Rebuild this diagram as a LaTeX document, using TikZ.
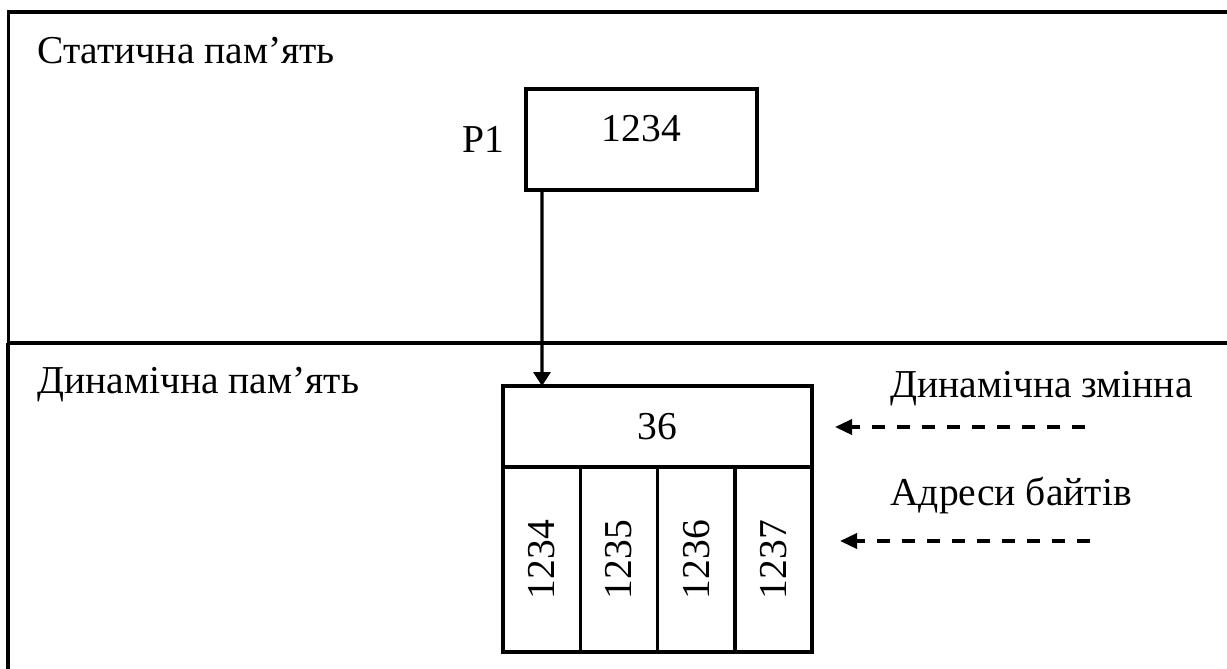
\documentclass[tikz,border=0pt]{standalone}
\usepackage{fontspec}
\setmainfont{Liberation Serif}
\usepackage{tikz}
\usetikzlibrary{positioning,arrows.meta}

\begin{document}
\begin{tikzpicture}[
    every node/.style={font=\fontsize{22.5}{27}\selectfont, inner sep=0pt},
    frame/.style={draw=black, line width=2pt},
    cell/.style={draw=black, line width=2pt, inner sep=0pt, outer sep=0pt, align=center},
    ptr/.style={line width=1.8pt, -{Triangle[width=0.34cm,length=0.28cm]}},
    hint/.style={line width=2pt, dash pattern=on 0.26cm off 0.24cm, -{Triangle[width=0.3cm,length=0.34cm]}}
  ]
    \useasboundingbox (0,0) rectangle (24.54,-13.36);

    % frames of the two memory areas
    \draw[frame] (24.6,-0.24) -- (0.17,-0.24) -- (0.17,-6.86) -- (24.6,-6.86);
    \draw[frame] (0.16,-6.86) -- (0.16,-13.4);
    \node[anchor=base west] (statlbl) at (0.74,-1.26) {Статична пам’ять};
    \node[anchor=base west] (dynlbl) at (0.74,-7.86) {Динамічна пам’ять};

    % static pointer P1
    \node[cell, minimum width=4.62cm, minimum height=2.02cm] (p1) at (12.83,-2.79) {};
    \node[anchor=base] (p1val) at (12.83,-2.82) {1234};
    \node[left=0.42cm of p1] (p1name) {P1};

    % dynamic variable and its bytes
    \node[cell, minimum width=6.18cm, minimum height=1.62cm, anchor=north west] (dyn) at (10.06,-7.72) {36};
    \foreach \a [count=\i] in {1234,1235,1236,1237} {
      \pgfmathsetmacro\xcoord{10.06+(\i-1)*1.545}
      \node[cell, minimum width=1.545cm, minimum height=3.7cm, anchor=north west] (byte\i) at (\xcoord,-9.34) {\rotatebox{90}{\a}};
    }
    \draw[ptr] ([xshift=0.32cm]p1.south west) -- ([xshift=0.78cm]dyn.north west);

    % explanations
    \node[anchor=base west] (varlbl) at (17.8,-7.94) {Динамічна змінна};
    \node[anchor=base west] (adrlbl) at (17.8,-10.1) {Адреси байтів};
    \coordinate (vartail) at (21.7,-8.54);
    \coordinate (varhead) at (16.7,-8.54);
    \coordinate (adrtail) at (21.8,-10.82);
    \coordinate (adrhead) at (16.8,-10.82);
    \draw[hint] (vartail) -- (varhead);
    \draw[hint] (adrtail) -- (adrhead);
  \end{tikzpicture}
\end{document}
